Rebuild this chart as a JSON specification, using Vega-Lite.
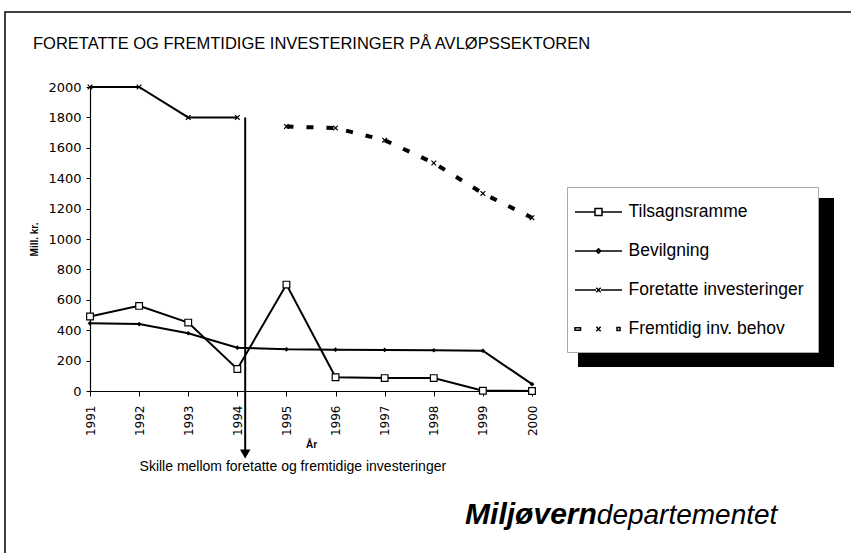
{
  "$schema": "https://vega.github.io/schema/vega-lite/v6.json",
  "autosize": {"type": "none"},
  "padding": {"left": 90, "top": 87, "right": 319, "bottom": 162},
  "width": 442,
  "height": 304,
  "background": "white",
  "config": {
    "view": {"stroke": null},
    "font": "Liberation Sans",
    "axis": {"grid": false, "domainColor": "black", "tickColor": "black", "labelColor": "black", "titleColor": "black", "domainWidth": 1.2, "tickWidth": 1}
  },
  "title": {
    "text": "FORETATTE OG FREMTIDIGE INVESTERINGER PÅ AVLØPSSEKTOREN",
    "anchor": "start", "frame": "group", "dx": -57, "offset": -42,
    "font": "Liberation Sans", "fontSize": 16.5, "fontWeight": "normal", "color": "black"
  },
  "datasets": {
    "main": [
      {"year": 1991, "series": "Tilsagnsramme", "value": 490},
      {"year": 1992, "series": "Tilsagnsramme", "value": 560},
      {"year": 1993, "series": "Tilsagnsramme", "value": 450},
      {"year": 1994, "series": "Tilsagnsramme", "value": 145},
      {"year": 1995, "series": "Tilsagnsramme", "value": 700},
      {"year": 1996, "series": "Tilsagnsramme", "value": 90},
      {"year": 1997, "series": "Tilsagnsramme", "value": 85},
      {"year": 1998, "series": "Tilsagnsramme", "value": 85},
      {"year": 1999, "series": "Tilsagnsramme", "value": 2},
      {"year": 2000, "series": "Tilsagnsramme", "value": 0},
      {"year": 1991, "series": "Bevilgning", "value": 445},
      {"year": 1992, "series": "Bevilgning", "value": 440},
      {"year": 1993, "series": "Bevilgning", "value": 380},
      {"year": 1994, "series": "Bevilgning", "value": 285},
      {"year": 1995, "series": "Bevilgning", "value": 274},
      {"year": 1996, "series": "Bevilgning", "value": 272},
      {"year": 1997, "series": "Bevilgning", "value": 270},
      {"year": 1998, "series": "Bevilgning", "value": 268},
      {"year": 1999, "series": "Bevilgning", "value": 265},
      {"year": 2000, "series": "Bevilgning", "value": 45},
      {"year": 1991, "series": "Foretatte investeringer", "value": 2000},
      {"year": 1992, "series": "Foretatte investeringer", "value": 2000},
      {"year": 1993, "series": "Foretatte investeringer", "value": 1800},
      {"year": 1994, "series": "Foretatte investeringer", "value": 1800},
      {"year": 1995, "series": "Fremtidig inv. behov", "value": 1740},
      {"year": 1996, "series": "Fremtidig inv. behov", "value": 1730},
      {"year": 1997, "series": "Fremtidig inv. behov", "value": 1650},
      {"year": 1998, "series": "Fremtidig inv. behov", "value": 1500},
      {"year": 1999, "series": "Fremtidig inv. behov", "value": 1300},
      {"year": 2000, "series": "Fremtidig inv. behov", "value": 1140}
    ],
    "notes": [
      {"kind": "arrow", "year": 1994.16, "value": 1800, "value2": -400},
      {"kind": "head", "year": 1994.16, "value": -414},
      {"kind": "note", "year": 1995.13, "value": -500, "text": "Skille mellom foretatte og fremtidige investeringer"},
      {"kind": "brand1", "year": 2001.32, "value": -875, "text": "Miljøvern"},
      {"kind": "brand2", "year": 2001.32, "value": -875, "text": "departementet"}
    ]
  },
  "encoding": {
    "x": {
      "field": "year", "type": "quantitative",
      "scale": {"domain": [1991, 2000], "nice": false, "zero": false},
      "axis": {
        "values": [1991, 1992, 1993, 1994, 1995, 1996, 1997, 1998, 1999, 2000],
        "format": "d", "labelAngle": -90, "labelFont": "DejaVu Sans", "labelFontSize": 12,
        "tickSize": 5, "labelPadding": 9, "title": "År", "titleFont": "Liberation Sans",
        "titleFontSize": 10, "titleFontWeight": "bold", "titleDx": -21, "titlePadding": 4
      }
    },
    "y": {
      "field": "value", "type": "quantitative",
      "scale": {"domain": [0, 2000], "nice": false},
      "axis": {
        "values": [0, 200, 400, 600, 800, 1000, 1200, 1400, 1600, 1800, 2000],
        "format": "d",
        "labelFont": "DejaVu Sans", "labelFontSize": 13, "tickSize": 4, "labelPadding": 5,
        "title": "Mill. kr.", "titleFont": "Liberation Sans", "titleFontSize": 10,
        "titleFontWeight": "bold", "titlePadding": 8
      }
    }
  },
  "layer": [
    {
      "data": {"name": "main"},
      "transform": [{"filter": "datum.series !== 'Fremtidig inv. behov'"}],
      "mark": {"type": "line", "color": "black", "strokeWidth": 2},
      "encoding": {"detail": {"field": "series"}}
    },
    {
      "data": {"name": "main"},
      "transform": [{"filter": "datum.series === 'Fremtidig inv. behov'"}],
      "mark": {"type": "line", "color": "black", "strokeWidth": 4, "strokeDash": [7, 13], "strokeCap": "butt"},
      "encoding": {}
    },
    {
      "data": {"name": "notes"},
      "transform": [{"filter": "datum.kind === 'arrow'"}],
      "mark": {"type": "rule", "color": "black", "strokeWidth": 2},
      "encoding": {"y2": {"field": "value2"}}
    },
    {
      "data": {"name": "notes"},
      "transform": [{"filter": "datum.kind === 'head'"}],
      "mark": {"type": "point", "shape": "triangle-down", "filled": true, "color": "black", "size": 110, "opacity": 1},
      "encoding": {}
    },
    {
      "data": {"name": "main"},
      "transform": [{"filter": "datum.series === 'Tilsagnsramme'"}],
      "mark": {"type": "point", "shape": "square", "filled": true, "fill": "white", "stroke": "black", "strokeWidth": 1.2, "size": 45, "opacity": 1},
      "encoding": {}
    },
    {
      "data": {"name": "main"},
      "transform": [{"filter": "datum.series === 'Bevilgning'"}],
      "mark": {"type": "point", "shape": "diamond", "filled": true, "color": "black", "size": 22, "opacity": 1},
      "encoding": {}
    },
    {
      "data": {"name": "main"},
      "transform": [{"filter": "datum.series === 'Foretatte investeringer' || datum.series === 'Fremtidig inv. behov'"}],
      "mark": {"type": "point", "shape": "M-1,-1L1,1M-1,1L1,-1", "filled": false, "stroke": "black", "strokeWidth": 1.2, "size": 22, "opacity": 1},
      "encoding": {}
    },
    {
      "data": {"name": "notes"},
      "transform": [{"filter": "datum.kind === 'note'"}],
      "mark": {"type": "text", "font": "Liberation Sans", "fontSize": 14, "color": "black", "align": "center", "baseline": "middle"},
      "encoding": {"text": {"field": "text"}}
    },
    {
      "data": {"name": "notes"},
      "transform": [{"filter": "datum.kind === 'brand1'"}],
      "mark": {"type": "text", "font": "Liberation Sans", "fontSize": 30, "fontWeight": "bold", "fontStyle": "italic", "color": "black", "align": "right", "baseline": "alphabetic"},
      "encoding": {"text": {"field": "text"}}
    },
    {
      "data": {"name": "notes"},
      "transform": [{"filter": "datum.kind === 'brand2'"}],
      "mark": {"type": "text", "font": "Liberation Sans", "fontSize": 28, "fontStyle": "italic", "color": "black", "align": "left", "baseline": "alphabetic"},
      "encoding": {"text": {"field": "text"}}
    },
    {
      "data": {"name": "main"},
      "transform": [{"filter": "false"}],
      "mark": {"type": "point", "filled": true, "strokeWidth": 0, "opacity": 1},
      "encoding": {
        "color": {
          "field": "series", "type": "nominal",
          "scale": {"domain": ["shadow"], "range": ["black"]},
          "legend": {
            "orient": "none", "legendX": 487, "legendY": 110, "title": null,
            "labelExpr": "''", "labelFontSize": 1, "labelOffset": 0,
            "symbolType": "M0,0H256V169H0Z", "symbolSize": 4, "symbolStrokeWidth": 0,
            "symbolFillColor": "black", "symbolOpacity": 1, "symbolOffset": 0, "padding": 0
          }
        }
      }
    },
    {
      "data": {"name": "main"},
      "transform": [{"filter": "false"}],
      "mark": {"type": "point", "filled": false, "color": "black", "strokeWidth": 1.5, "opacity": 1},
      "encoding": {
        "opacity": {
          "field": "series", "type": "nominal",
          "scale": {"domain": ["frame"], "range": [1]},
          "legend": {
            "orient": "none", "legendX": -87, "legendY": -77, "title": null,
            "labelExpr": "''", "labelFontSize": 1, "labelOffset": 0,
            "symbolType": "M0,545V0H850", "symbolSize": 4, "symbolStrokeWidth": 1.5,
            "symbolStrokeColor": "black", "symbolFillColor": "transparent", "symbolOffset": 0, "padding": 0
          }
        }
      }
    },
    {
      "data": {"name": "main"},
      "transform": [{"filter": "false"}],
      "mark": {"type": "point", "filled": false, "color": "black", "strokeWidth": 1.5, "opacity": 1},
      "encoding": {
        "shape": {
          "field": "series", "type": "nominal",
          "scale": {
            "domain": ["Tilsagnsramme", "Bevilgning", "Foretatte investeringer", "Fremtidig inv. behov"],
            "range": [
              "M-2.35,0H-0.35M0.35,0H2.35M-0.35,-0.35H0.35V0.35H-0.35Z",
              "M-2.35,0H2.35M0,-0.22L0.22,0L0,0.22L-0.22,0Z",
              "M-2.35,0H-0.25M0.25,0H2.35M-0.22,-0.22L0.22,0.22M-0.22,0.22L0.22,-0.22",
              "M-2.35,-0.12H-1.8V0.12H-2.35ZM-0.22,-0.22L0.22,0.22M-0.22,0.22L0.22,-0.22M1.85,-0.15H2.15V0.15H1.85Z"
            ]
          },
          "legend": {
            "orient": "none", "legendX": 477, "legendY": 100, "title": null, "labelLimit": 400,
            "symbolSize": 400, "symbolStrokeWidth": 1.5, "symbolStrokeColor": "black",
            "labelFont": "Liberation Sans", "labelFontSize": 17.5, "labelColor": "black",
            "fillColor": "white", "strokeColor": "#aaaaaa", "padding": 14,
            "symbolOffset": 6.5, "labelOffset": 19, "rowPadding": 19
          }
        }
      }
    }
  ]
}
